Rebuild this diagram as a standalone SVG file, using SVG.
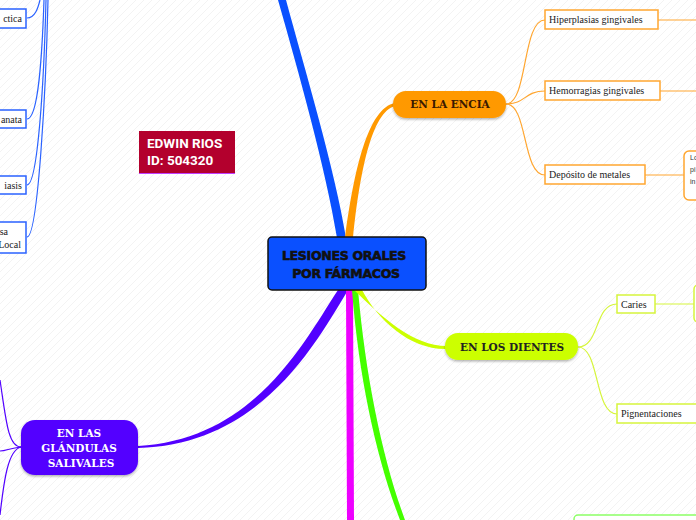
<svg xmlns="http://www.w3.org/2000/svg" width="696" height="520" viewBox="0 0 696 520">
<defs>
<pattern id="bg" patternUnits="userSpaceOnUse" width="8" height="8">
<rect width="8" height="8" fill="#ffffff"/>
<path d="M-2,2 L2,-2 M0,8 L8,0 M6,10 L10,6" stroke="#f3f3f3" stroke-width="1"/>
</pattern>
<filter id="sh" x="-10%" y="-20%" width="120%" height="150%">
<feDropShadow dx="0" dy="1.5" stdDeviation="1.2" flood-color="#000" flood-opacity="0.3"/>
</filter>
</defs>
<style>
.sub{font-family:"Liberation Serif","DejaVu Serif",serif;font-size:10px;fill:#222}
.main{font-family:"DejaVu Serif",serif;font-weight:bold;font-size:10.5px;text-anchor:middle}
.ctr{font-family:"DejaVu Sans",sans-serif;font-weight:bold;font-size:12.5px;text-anchor:middle;fill:#111;stroke:#111;stroke-width:0.6;letter-spacing:-0.3px}
.thin{fill:none;stroke-width:1.2}
.ob{fill:#fff;stroke:#FFA630;stroke-width:1.5}
.yb{fill:#fff;stroke:#D6F53C;stroke-width:1.5}
.bb{fill:#fff;stroke:#2A62FF;stroke-width:1.5}
</style>
<rect width="696" height="520" fill="url(#bg)"/>

<g id="connectors">
<path d="M278,0 C298,70 326,170 337,238 L346,238 C335,170 305,70 286,0 Z" fill="#0A50FF"/>
<path d="M345,238 C354,170 368,108 395,103 L395,106 C372,112 360,170 353,238 Z" fill="#FF9900"/>
<path d="M338,290 C305,340 255,440 138,446 L138,448 C260,445 315,345 348,290 Z" fill="#5200FF"/>
<path d="M346,290 L347,520 L354,520 L353,290 Z" fill="#EE00FF"/>
<path d="M352,290 C359,380 377,460 400,520 L405,520 C383,460 366,380 358,290 Z" fill="#44FF00"/>
<path d="M354,290 C382,317 413,346 447,346 L447,349 C410,350 378,320 362,290 Z" fill="#CCFF00"/>

<g class="thin" stroke="#FFA630">
<path d="M506,104 C528,104 522,20 545,20"/>
<path d="M506,104 C526,104 524,91 545,91"/>
<path d="M506,104 C528,104 522,175 545,175"/>
<path d="M658,20 L696,20"/>
<path d="M660,91 L696,91"/>
<path d="M645,175 L684,175"/>
</g>
<g class="thin" stroke="#D6F53C">
<path d="M578,347 C600,347 594,304 617,304"/>
<path d="M578,347 C600,347 594,414 617,414"/>
<path d="M655,304 L694,304"/>
</g>
<g class="thin" stroke="#5200FF">
<path d="M21,447 C8,447 6,420 0,380"/>
<path d="M21,447 C10,448 6,451 0,451"/>
<path d="M21,447 C8,450 4,480 0,515"/>
</g>
<g class="thin" stroke="#2A62FF">
<path d="M27,18 C35,18 38,8 40,0"/>
<path d="M27,119 C38,119 42,60 44,0"/>
<path d="M27,185 C38,185 44,80 46,0"/>
<path d="M27,237 C38,237 46,90 48,0"/>
</g>
</g>

<g id="central">
<rect x="268" y="237" width="158" height="53" rx="4" fill="#0A50FF" stroke="#111" stroke-width="1.5"/>
<text class="ctr" x="344" y="260">LESIONES ORALES</text>
<text class="ctr" x="346" y="278">POR FÁRMACOS</text>
</g>

<g id="encia">
<rect x="393" y="91" width="113" height="27" rx="13" fill="#FF9900" filter="url(#sh)"/>
<text class="main" x="450" y="108" fill="#3a1a00">EN LA ENCIA</text>
</g>
<g id="hiperplasias">
<rect class="ob" x="545" y="10" width="113" height="19"/>
<text class="sub" x="549" y="23">Hiperplasias gingivales</text>
</g>
<g id="hemorragias">
<rect class="ob" x="545" y="81" width="115" height="19"/>
<text class="sub" x="549" y="94">Hemorragias gingivales</text>
</g>
<g id="deposito">
<rect class="ob" x="545" y="165" width="100" height="19"/>
<text class="sub" x="549" y="178">Depósito de metales</text>
</g>
<g id="deposito-nota">
<rect class="ob" x="684" y="151" width="30" height="49" rx="5"/>
<g font-family="Liberation Sans,sans-serif" font-size="7" fill="#333">
<text x="690" y="160">Lo</text>
<text x="690" y="172">pi</text>
<text x="690" y="184">in</text>
</g>
</g>

<g id="dientes">
<rect x="445" y="333" width="133" height="27" rx="13" fill="#CCFF00" filter="url(#sh)"/>
<text class="main" x="512" y="351" fill="#222">EN LOS DIENTES</text>
</g>
<g id="caries">
<rect class="yb" x="617" y="295" width="38" height="18"/>
<text class="sub" x="621" y="308">Caries</text>
</g>
<g id="caries-hijo">
<rect class="yb" x="694" y="285" width="20" height="37" rx="4"/>
</g>
<g id="pignentaciones">
<rect class="yb" x="617" y="404" width="90" height="19"/>
<text class="sub" x="621" y="417">Pignentaciones</text>
</g>

<g id="verde-hijo">
<rect x="574" y="515" width="140" height="20" rx="4" fill="#fff" stroke="#8CFF66" stroke-width="1.5"/>
</g>

<g id="glandulas">
<rect x="21" y="420" width="117" height="55" rx="14" fill="#5200FF" filter="url(#sh)"/>
<text class="main" x="79" y="437" fill="#fff">EN LAS</text>
<text class="main" x="79" y="452" fill="#fff">GLÁNDULAS</text>
<text class="main" x="81" y="467" fill="#fff">SALIVALES</text>
</g>

<g id="edwin">
<rect x="139" y="131" width="96" height="42" fill="#B3002D"/>
<line x1="139" y1="173.5" x2="235" y2="173.5" stroke="#C040FF" stroke-width="1"/>
<text x="147" y="148" font-family="Roboto,sans-serif" font-weight="bold" font-size="13.5" fill="#fff">EDWIN RIOS</text>
<text x="147" y="165" font-family="Roboto,sans-serif" font-weight="bold" font-size="13.5" fill="#fff">ID: 504320</text>
</g>

<g id="izq-1">
<rect class="bb" x="-60" y="9" width="86" height="19"/>
<text class="sub" x="22" y="22" text-anchor="end">ctica</text>
</g>
<g id="izq-2">
<rect class="bb" x="-60" y="110" width="86" height="18"/>
<text class="sub" x="22" y="123" text-anchor="end">anata</text>
</g>
<g id="izq-3">
<rect class="bb" x="-60" y="176" width="86" height="18"/>
<text class="sub" x="22" y="189" text-anchor="end">iasis</text>
</g>
<g id="izq-4">
<rect class="bb" x="-60" y="222" width="86" height="31"/>
<text class="sub" x="8" y="235" text-anchor="end">sa</text>
<text class="sub" x="21" y="248" text-anchor="end">Local</text>
</g>
</svg>
